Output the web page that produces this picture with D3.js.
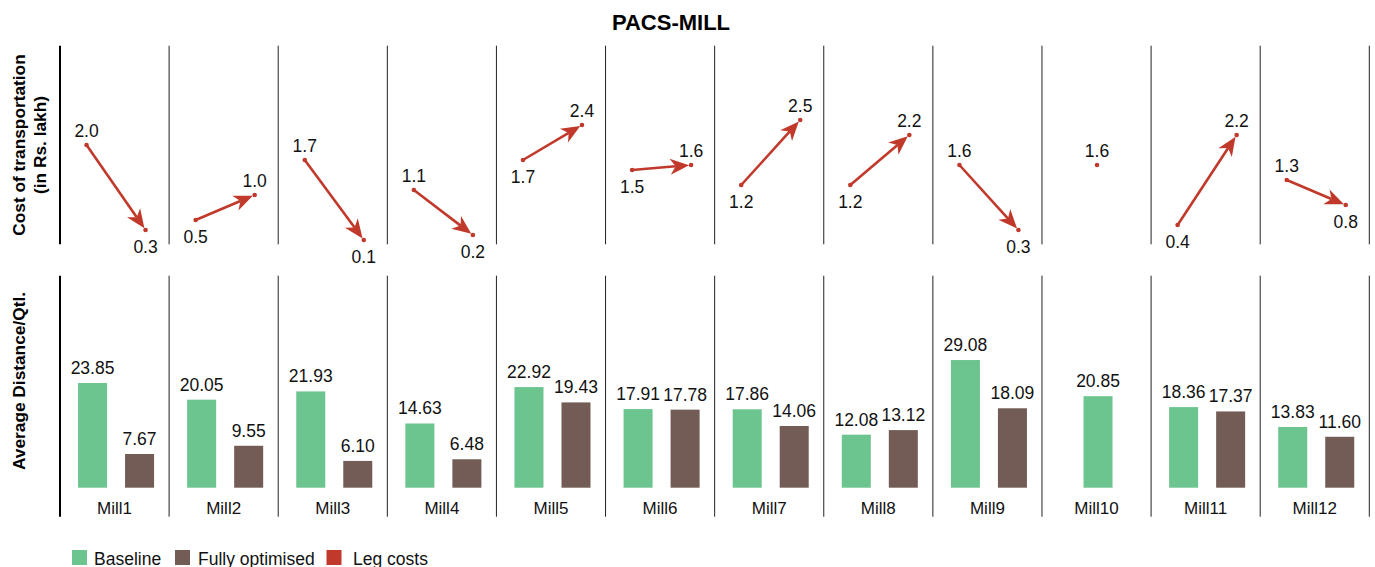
<!DOCTYPE html>
<html>
<head>
<meta charset="utf-8">
<script src="https://cdn.jsdelivr.net/npm/d3@7"></script>
<style>
  html, body { margin: 0; padding: 0; background: #fff; }
  svg { display: block; font-family: "Liberation Sans", Arial, Helvetica, sans-serif; }
</style>
</head>
<body>
<svg id="chart" width="1375" height="567"></svg>
<script>
// ---- data ----
const mills = ["Mill1","Mill2","Mill3","Mill4","Mill5","Mill6","Mill7","Mill8","Mill9","Mill10","Mill11","Mill12"];
const baseline = [23.85, 20.05, 21.93, 14.63, 22.92, 17.91, 17.86, 12.08, 29.08, 20.85, 18.36, 13.83];
const optimised = [7.67, 9.55, 6.10, 6.48, 19.43, 17.78, 14.06, 13.12, 18.09, null, 17.37, 11.60];
const legStart = [2.0, 0.5, 1.7, 1.1, 1.7, 1.5, 1.2, 1.2, 1.6, 1.6, 0.4, 1.3];
const legEnd = [0.3, 1.0, 0.1, 0.2, 2.4, 1.6, 2.5, 2.2, 0.3, null, 2.2, 0.8];
const seriesNames = ["Baseline", "Fully optimised", "Leg costs"];
const colors = ["#6cc48f", "#725c55", "#c0392b"];
const title = "PACS-MILL";

// ---- layout ----
const svg = d3.select("#chart");
const left = 60, right = 1369.3;
const x = d3.scaleBand().domain(mills).range([left, right]).padding(0);
const colW = x.bandwidth();

const topY = d3.scaleLinear().domain([0, 4]).range([245, 45]);
const botY = d3.scaleLinear().domain([0, 30]).range([487.7, 356]);

const sub = d3.scaleBand().domain(["b", "o"]).range([3, colW]).paddingInner(0.383).paddingOuter(0.32);
const bw = sub.bandwidth();
const subP = d3.scalePoint().domain(["s", "e"]).range([3, colW]).padding(0.399);
const subCenter = 3 + (colW - 3) / 2;

// title
svg.append("text").attr("x", 671).attr("y", 30).attr("text-anchor", "middle")
  .attr("font-size", 22).attr("font-weight", "bold").attr("fill", "#000").text(title);

// y axis titles
svg.append("text").attr("transform", "translate(18.5,145) rotate(-90)")
  .attr("text-anchor", "middle").attr("dy", "0.35em")
  .attr("font-size", 17.3).attr("font-weight", "bold").text("Cost of transportation");
svg.append("text").attr("transform", "translate(40,145) rotate(-90)")
  .attr("text-anchor", "middle").attr("dy", "0.35em")
  .attr("font-size", 17.3).attr("font-weight", "bold").text("(in Rs. lakh)");
svg.append("text").attr("transform", "translate(19,381) rotate(-90)")
  .attr("text-anchor", "middle").attr("dy", "0.35em")
  .attr("font-size", 17.3).attr("font-weight", "bold").text("Average Distance/Qtl.");

// separators
const bounds = mills.map(m => x(m)).concat([right]);
bounds.forEach((bx, i) => {
  [[45.7, 244.3], [275.7, 516.7]].forEach(([y1, y2]) => {
    svg.append("line").attr("x1", bx).attr("x2", bx).attr("y1", y1).attr("y2", y2)
      .attr("stroke", i === 0 ? "#000" : "#222").attr("stroke-width", i === 0 ? 2 : 1);
  });
});

// ---- bottom panel bars ----
const fmt2 = d3.format(".2f");
mills.forEach((m, i) => {
  const x0 = x(m);
  const vals = [["b", baseline[i], colors[0]], ["o", optimised[i], colors[1]]].filter(d => d[1] != null);
  vals.forEach(([k, v, c]) => {
    const bx = vals.length === 2 ? x0 + sub(k) : x0 + subCenter - bw / 2;
    svg.append("rect").attr("x", bx).attr("y", botY(v)).attr("width", bw)
      .attr("height", botY(0) - botY(v)).attr("fill", c);
    svg.append("text").attr("x", bx + bw / 2).attr("y", botY(v) - 9)
      .attr("text-anchor", "middle").attr("font-size", 17.5).attr("fill", "#111").text(fmt2(v));
  });
  svg.append("text").attr("x", x0 + colW / 2).attr("y", 514)
    .attr("text-anchor", "middle").attr("font-size", 17).attr("fill", "#111").text(m);
});

// ---- top panel arrows ----
const fmt1 = d3.format(".1f");
const red = colors[2];
mills.forEach((m, i) => {
  const x0 = x(m);
  const s = legStart[i], e = legEnd[i];
  if (e == null) {
    const px = x0 + subCenter - 1, py = topY(s);
    svg.append("circle").attr("cx", px).attr("cy", py).attr("r", 2.3).attr("fill", red);
    svg.append("text").attr("x", px).attr("y", py - 8).attr("text-anchor", "middle")
      .attr("font-size", 17.5).attr("fill", "#111").text(fmt1(s));
    return;
  }
  const x1 = x0 + subP("s"), y1 = topY(s);
  const x2 = x0 + subP("e"), y2 = topY(e);
  const ang = Math.atan2(y2 - y1, x2 - x1);
  const tipGap = 2, headLen = 19, headHalf = 8, notch = 5.5;
  const tx = x2 - tipGap * Math.cos(ang), ty = y2 - tipGap * Math.sin(ang);
  const lx = tx - (headLen - notch) * Math.cos(ang), ly = ty - (headLen - notch) * Math.sin(ang);
  svg.append("line").attr("x1", x1).attr("y1", y1).attr("x2", lx).attr("y2", ly)
    .attr("stroke", red).attr("stroke-width", 2.6);
  svg.append("path")
    .attr("d", `M0,0 L${-headLen},${-headHalf} L${-headLen + notch},0 L${-headLen},${headHalf} Z`)
    .attr("transform", `translate(${tx},${ty}) rotate(${ang * 180 / Math.PI})`)
    .attr("fill", red);
  svg.append("circle").attr("cx", x1).attr("cy", y1).attr("r", 2.3).attr("fill", red);
  svg.append("circle").attr("cx", x2).attr("cy", y2).attr("r", 2.3).attr("fill", red);
  [[x1, y1, s, s >= e], [x2, y2, e, e > s]].forEach(([px, py, v, above]) => {
    svg.append("text").attr("x", px).attr("y", above ? py - 8 : py + 23)
      .attr("text-anchor", "middle").attr("font-size", 17.5).attr("fill", "#111").text(fmt1(v));
  });
});

// ---- legend ----
const legX = [72, 175, 326.5];
const legTextDx = [22, 23, 26.5];
seriesNames.forEach((n, i) => {
  svg.append("rect").attr("x", legX[i]).attr("y", 550).attr("width", 15).attr("height", 15).attr("fill", colors[i]);
  svg.append("text").attr("x", legX[i] + legTextDx[i]).attr("y", 564.5).attr("font-size", 17.5).attr("fill", "#111").text(n);
});
</script>
</body>
</html>
